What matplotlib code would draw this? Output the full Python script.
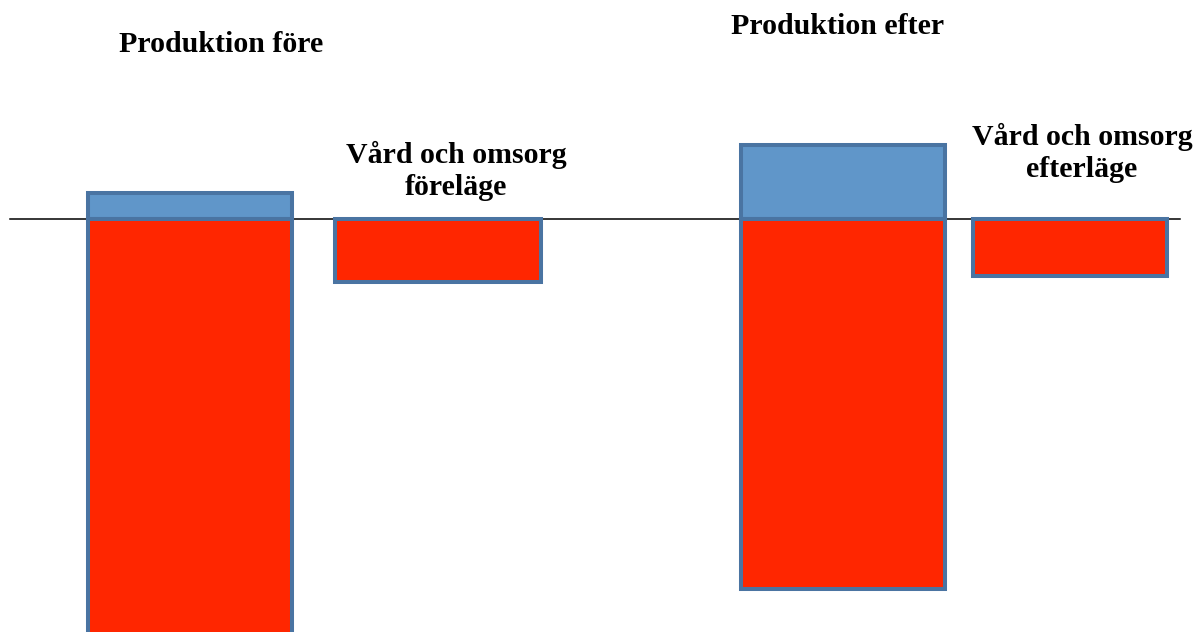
import matplotlib.pyplot as plt

# values in pixel-like units relative to the zero line
labels = ["Produktion före", "Vård och omsorg\nföreläge", "Produktion efter", "Vård och omsorg\nefterläge"]
positive = [26, 0, 74, 0]
negative = [-430, -63, -370, -57]

x_pos = [190, 438, 843, 1070]
widths = [204, 206, 204, 194]
label_xy = [(221, 45), (456, 171), (838, 26), (1082, 153)]

blue = "#6096C9"
red = "#FF2600"
edge = "#4A74A2"

fig = plt.figure(figsize=(11.98, 6.32), dpi=100)
ax = fig.add_axes([0, 0, 1, 1])
ax.set_xlim(0, 1198)
ax.set_ylim(-413, 219)
ax.axis("off")

ax.plot([10, 1180], [0, 0], color="black", lw=1.1, zorder=1)

for xp, w, p, n in zip(x_pos, widths, positive, negative):
    if p:
        ax.bar(xp, p, width=w, bottom=0, color=blue, edgecolor=edge, linewidth=2.9, zorder=2)
    ax.bar(xp, n, width=w, bottom=0, color=red, edgecolor=edge, linewidth=2.9, zorder=3)

for (tx, ty), lab in zip(label_xy, labels):
    ax.text(tx, 219 - ty, lab, ha="center", va="center", fontsize=21.5,
            fontweight="bold", family="Liberation Serif", linespacing=1.25)

fig.savefig("out.png", dpi=100)
